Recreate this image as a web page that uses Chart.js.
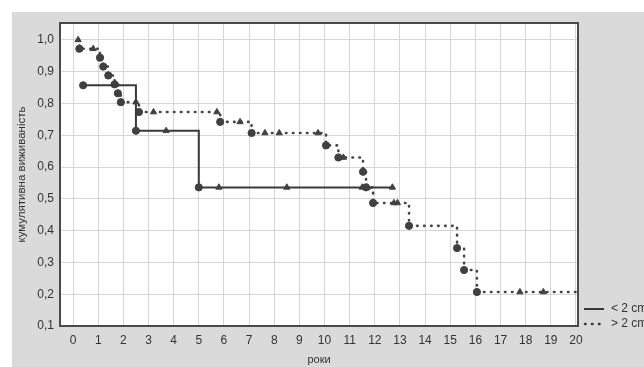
<!DOCTYPE html>
<html>
<head>
<meta charset="utf-8">
<script src="https://cdn.jsdelivr.net/npm/chart.js@4"></script>
<style>
  html, body { margin: 0; padding: 0; background: #fff; }
  canvas { display: block; }
</style>
</head>
<body>
<canvas id="survChart" width="644" height="367"></canvas>
<script>
// < 2 cm group (solid line)
const smallYears = [0.4, 2.5, 3.7, 5, 5.8, 8.5, 11.5, 11.7, 12.7]
const smallSurv = [0.857, 0.714, 0.714, 0.536, 0.536, 0.536, 0.536, 0.536, 0.536]
const smallCensored = [0, 0, 1, 0, 1, 1, 1, 1, 1]

// > 2 cm group (dotted line)
const largeYears = [0.2, 0.25, 0.8, 1.07, 1.2, 1.4, 1.65, 1.7, 1.78, 1.9, 2.5, 2.62, 3.2, 5.72, 5.85, 6.64, 7.1, 7.63, 8.2, 9.74,
    10.06, 10.55, 10.6, 10.75, 11.53, 11.65, 11.93, 12.76, 12.9, 13.36, 15.27, 15.55, 16.06, 17.77, 18.7, 20]
const largeSurv = [1.0, 0.972, 0.972, 0.944, 0.916, 0.888, 0.86, 0.86, 0.832, 0.804, 0.804, 0.773, 0.773, 0.773, 0.742, 0.742, 0.707, 0.707, 0.707, 0.707,
    0.668, 0.63, 0.63, 0.63, 0.585, 0.536, 0.487, 0.487, 0.487, 0.415, 0.345, 0.276, 0.207, 0.207, 0.207, 0.207]
const largeCensored = [1, 0, 1, 0, 0, 0, 0, 1, 0, 0, 1, 0, 1, 1, 0, 1, 0, 1, 1, 1,
    0, 0, 1, 1, 0, 0, 0, 1, 1, 0, 0, 0, 0, 1, 1, 1]

const seriesNames = ['< 2 cm', '> 2 cm']
const xTicks = [0, 1, 2, 3, 4, 5, 6, 7, 8, 9, 10, 11, 12, 13, 14, 15, 16, 17, 18, 19, 20]
const yTicks = [0.1, 0.2, 0.3, 0.4, 0.5, 0.6, 0.7, 0.8, 0.9, 1.0]
const xTitle = 'роки'
const yTitle = 'кумулятивна виживаність'

const FONT = '"Liberation Sans", Arial, sans-serif'
const INK = '#3a3a3a'

const toPoints = (xs, ys) => xs.map((x, i) => ({ x: x, y: ys[i] }))

const frame = {
    id: 'frame',
    beforeDraw(chart) {
        const { ctx, chartArea: a } = chart
        ctx.save()
        ctx.fillStyle = '#fff'
        ctx.fillRect(0, 0, chart.width, chart.height)
        ctx.fillStyle = '#dadada'
        ctx.fillRect(12, 12, chart.width - 12, chart.height - 12)
        ctx.fillStyle = '#fff'
        ctx.fillRect(a.left, a.top, a.right - a.left, a.bottom - a.top)
        ctx.restore()
    },
    afterDraw(chart) {
        const { ctx, chartArea: a } = chart
        ctx.save()
        ctx.strokeStyle = '#4a4a4a'
        ctx.lineWidth = 2
        ctx.strokeRect(a.left, a.top, a.right - a.left, a.bottom - a.top)

        // legend
        ctx.strokeStyle = INK
        ctx.lineWidth = 2
        ctx.beginPath()
        ctx.moveTo(584, 309)
        ctx.lineTo(604, 309)
        ctx.stroke()
        ctx.lineWidth = 2.5
        ctx.lineCap = 'round'
        ctx.setLineDash([0.5, 6.5])
        ctx.beginPath()
        ctx.moveTo(585, 324)
        ctx.lineTo(604, 324)
        ctx.stroke()
        ctx.setLineDash([])
        ctx.fillStyle = '#333'
        ctx.font = '12px ' + FONT
        ctx.textBaseline = 'middle'
        ctx.fillText(seriesNames[0], 611, 309)
        ctx.fillText(seriesNames[1], 611, 324)
        ctx.restore()
    }
}

const markerStyle = flags => ctx => flags[ctx.dataIndex] ? 'triangle' : 'circle'

new Chart(document.getElementById('survChart'), {
    type: 'line',
    data: {
        datasets: [{
            label: seriesNames[0],
            data: toPoints(smallYears, smallSurv),
            stepped: true,
            borderColor: INK,
            borderWidth: 2,
            pointStyle: markerStyle(smallCensored),
            pointRadius: 3.6,
            pointBackgroundColor: '#404040',
            pointBorderColor: '#404040',
            pointBorderWidth: 1
        }, {
            label: seriesNames[1],
            data: toPoints(largeYears, largeSurv),
            stepped: true,
            borderColor: '#444',
            borderWidth: 2.6,
            borderDash: [0.5, 6.5],
            borderCapStyle: 'round',
            pointStyle: markerStyle(largeCensored),
            pointRadius: ctx => ctx.dataIndex === largeYears.length - 1 ? 0 : 3.6,
            pointBackgroundColor: '#404040',
            pointBorderColor: '#404040',
            pointBorderWidth: 1
        }]
    },
    options: {
        responsive: false,
        devicePixelRatio: 1,
        animation: false,
        layout: { padding: { left: 0, top: 23, right: 66, bottom: 0 } },
        plugins: {
            legend: { display: false },
            tooltip: { enabled: false }
        },
        scales: {
            x: {
                type: 'linear',
                min: -0.52,
                max: 20.08,
                afterBuildTicks: scale => { scale.ticks = xTicks.map(v => ({ value: v })) },
                afterFit: scale => { scale.height = 41 },
                grid: { color: '#d4d4d4', drawTicks: false },
                border: { display: false },
                ticks: {
                    padding: 7,
                    color: '#333',
                    font: { family: FONT, size: 12 },
                    maxRotation: 0,
                    autoSkip: false
                },
                title: {
                    display: true,
                    text: xTitle,
                    color: '#333',
                    font: { family: FONT, size: 11 },
                    padding: { top: 0, bottom: 0 }
                }
            },
            y: {
                min: 0.1,
                max: 1.053,
                afterBuildTicks: scale => { scale.ticks = yTicks.map(v => ({ value: v })) },
                afterFit: scale => { scale.width = 60 },
                grid: { color: '#d4d4d4', drawTicks: false },
                border: { display: false },
                ticks: {
                    padding: 6,
                    color: '#333',
                    font: { family: FONT, size: 12 },
                    callback: v => v.toFixed(1).replace('.', ',')
                },
                title: {
                    display: true,
                    text: yTitle,
                    color: '#333',
                    font: { family: FONT, size: 11.5 },
                    padding: { top: 15, bottom: 0 }
                }
            }
        }
    },
    plugins: [frame]
})
</script>
</body>
</html>
